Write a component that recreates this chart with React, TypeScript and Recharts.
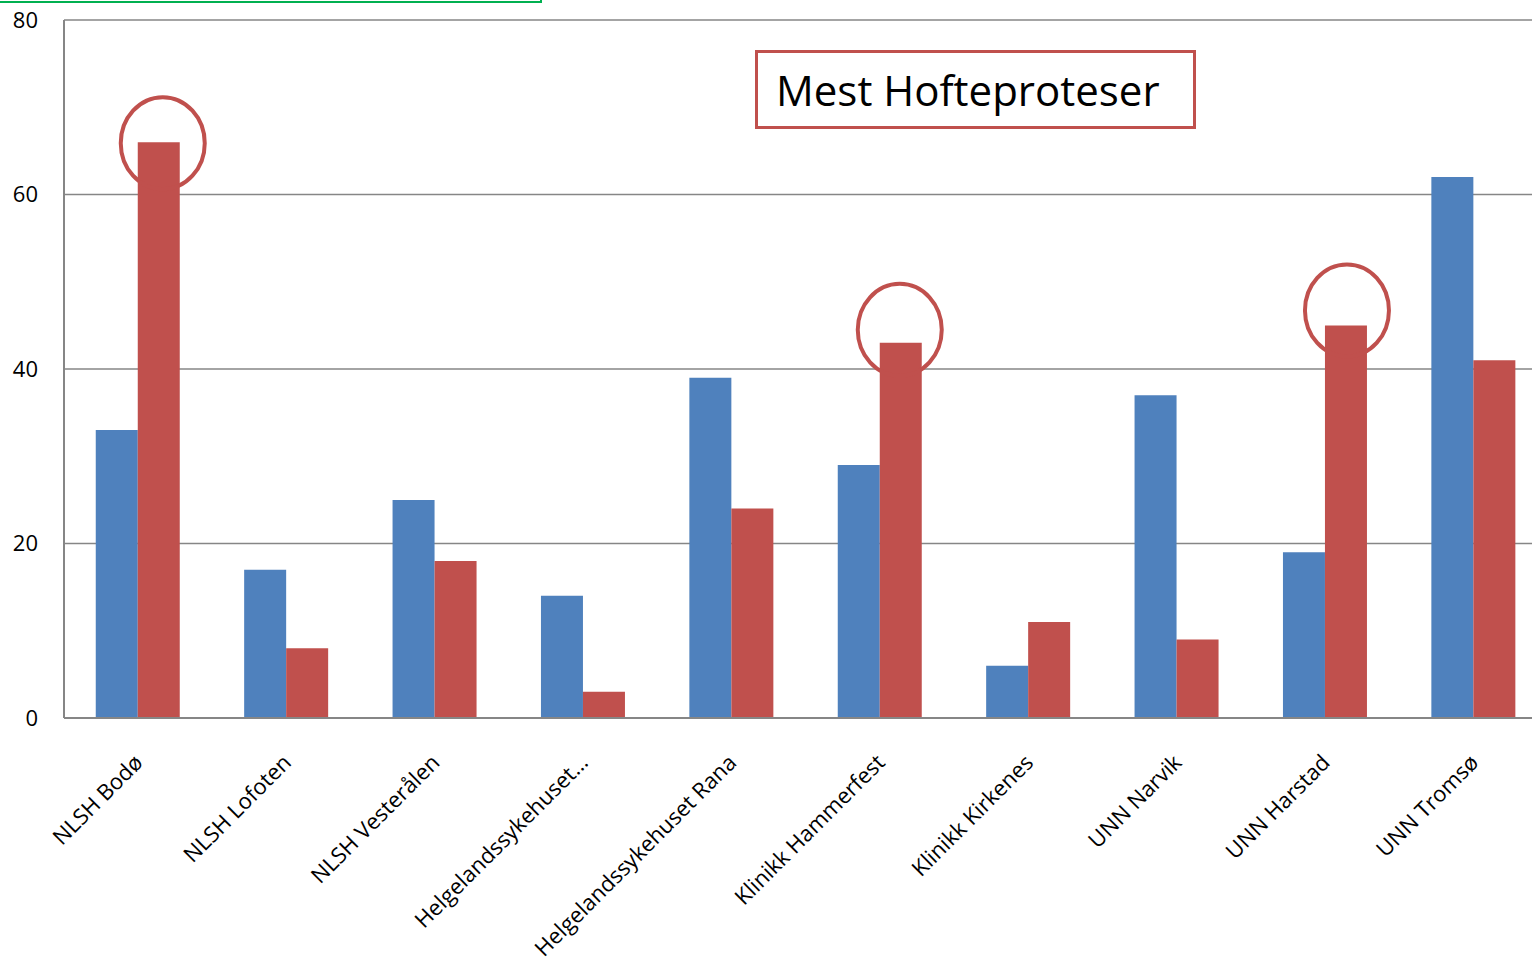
import React from "react";
import { BarChart, Bar, XAxis, YAxis, CartesianGrid, LabelList } from "recharts";

const categories = [
  "NLSH Bodø",
  "NLSH Lofoten",
  "NLSH Vesterålen",
  "Helgelandssykehuset…",
  "Helgelandssykehuset Rana",
  "Klinikk Hammerfest",
  "Klinikk Kirkenes",
  "UNN Narvik",
  "UNN Harstad",
  "UNN Tromsø",
];
const blueValues = [33, 17, 25, 14, 39, 29, 6, 37, 19, 62];
const redValues = [66, 8, 18, 3, 24, 43, 11, 9, 45, 41];
const yTicks = [0, 20, 40, 60, 80];
const highlighted = [
  { index: 0, value: 66, dx: 4, dy: 1 },
  { index: 5, value: 43, dx: -1, dy: -13 },
  { index: 8, value: 45, dx: 1, dy: -15 },
];
const titleText = "Mest Hofteproteser";

const data = categories.map((name, i) => ({ name, blue: blueValues[i], red: redValues[i] }));

const FONT = "'Open Sans', sans-serif";
const BLUE = "#4f81bd";
const RED = "#c0504d";
const GRID = "#868686";

const XTick = (props: any) => {
  const { x, y, payload } = props;
  return (
    <g transform={`translate(${x + 6},${y + 38})`}>
      <text transform="rotate(-45)" textAnchor="end" fontSize={22} fill="#000" fontFamily={FONT}>
        {payload.value}
      </text>
    </g>
  );
};

const renderCircle = (props: any) => {
  const { x, y, width, index, value } = props;
  const h = highlighted.find((e) => (index !== undefined ? e.index === index : e.value === value));
  if (!h) return null;
  return (
    <ellipse
      cx={Number(x) + Number(width) / 2 + h.dx}
      cy={Number(y) + h.dy}
      rx={42}
      ry={46}
      fill="none"
      stroke={RED}
      strokeWidth={4}
    />
  );
};

export default function App() {
  return (
    <div style={{ position: "absolute", left: 0, top: 0, width: 1532, height: 963, background: "#fff", overflow: "hidden" }}>
      <BarChart
        width={1548}
        height={963}
        data={data}
        margin={{ top: 20, right: 0, bottom: 0, left: 0 }}
        barCategoryGap="21.4%"
        barGap={0}
      >
        <CartesianGrid vertical={false} stroke={GRID} strokeWidth={1.5} />
        <XAxis
          dataKey="name"
          height={245}
          interval={0}
          tick={<XTick />}
          tickLine={false}
          axisLine={{ stroke: GRID, strokeWidth: 2 }}
        />
        <YAxis
          width={64}
          domain={[0, 80]}
          ticks={yTicks}
          tickLine={false}
          tickSize={0}
          tickMargin={26}
          axisLine={{ stroke: GRID, strokeWidth: 2 }}
          tick={{ fontSize: 22, fill: "#000", fontFamily: FONT }}
        />
        <Bar dataKey="blue" fill={BLUE} isAnimationActive={false} />
        <Bar dataKey="red" fill={RED} isAnimationActive={false}>
          <LabelList dataKey="red" content={renderCircle} />
        </Bar>
      </BarChart>
      <div
        style={{
          position: "absolute",
          left: -10,
          top: -10,
          width: 552,
          height: 13,
          boxSizing: "border-box",
          border: "2px solid #00b050",
        }}
      />
      <div
        style={{
          position: "absolute",
          left: 755,
          top: 50,
          width: 441,
          height: 79,
          boxSizing: "border-box",
          border: `3px solid ${RED}`,
          fontFamily: FONT,
          fontSize: 42,
          lineHeight: "73px",
          paddingLeft: 18,
          color: "#000",
          whiteSpace: "nowrap",
        }}
      >
        {titleText}
      </div>
    </div>
  );
}
